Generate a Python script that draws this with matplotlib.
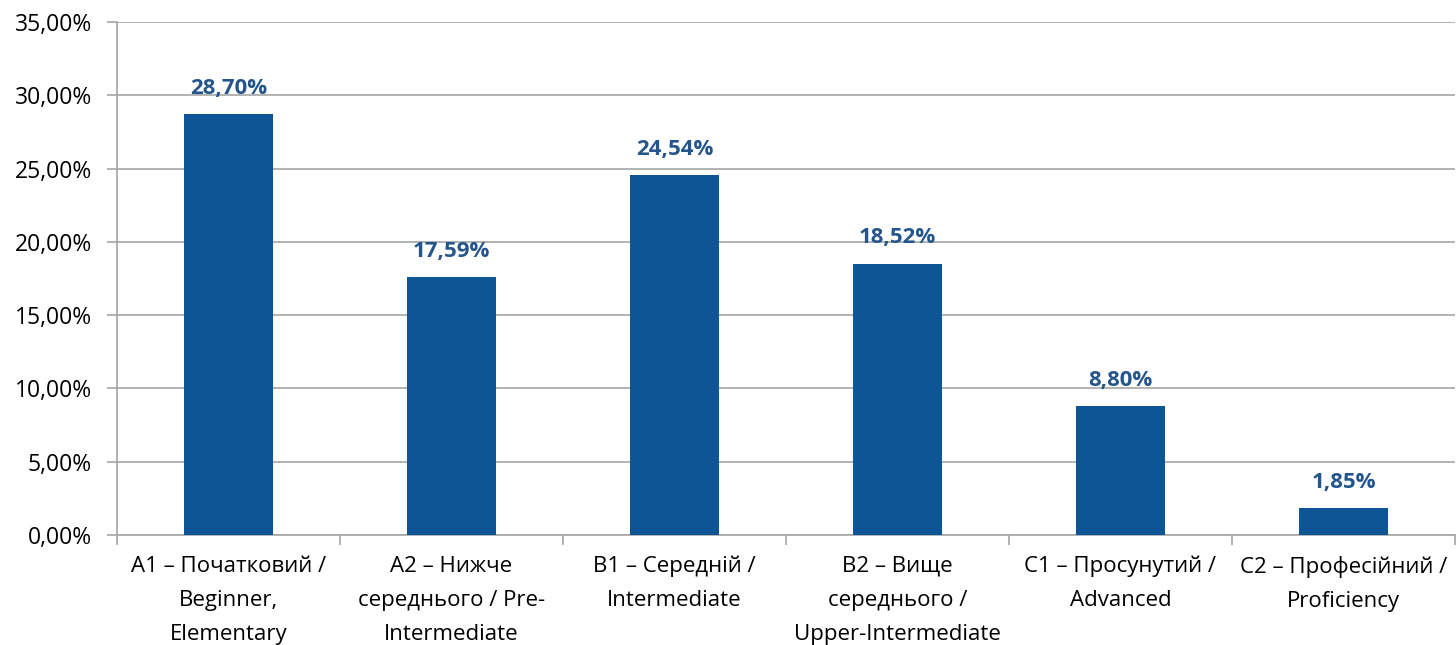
import matplotlib
matplotlib.use("Agg")
import matplotlib.pyplot as plt
from matplotlib.ticker import FuncFormatter, FixedLocator

categories = [
    "A1 – Початковий /\nBeginner,\nElementary",
    "A2 – Нижче\nсереднього / Pre-\nIntermediate",
    "B1 – Середній /\nIntermediate",
    "B2 – Вище\nсереднього /\nUpper-Intermediate",
    "C1 – Просунутий /\nAdvanced",
    "C2 – Професійний /\nProficiency",
]
values = [28.70, 17.59, 24.54, 18.52, 8.80, 1.85]
yticks = [0, 5, 10, 15, 20, 25, 30, 35]

plt.rcParams['font.family'] = ['Open Sans', 'DejaVu Sans']

fig = plt.figure(figsize=(14.56, 6.45), dpi=100)
ax = fig.add_axes([117/1456, 1-535/645, (1455-117)/1456, (535-22)/645])

x = list(range(len(values)))
ax.bar(x, values, width=0.4, color="#0E5595", zorder=3)
for xi, v in zip(x, values):
    ax.annotate(f"{v:.2f}%".replace(".", ","), (xi, v), xytext=(0, 11),
                textcoords="offset points", ha="center", va="bottom",
                fontsize=16, fontweight="bold", color="#24558C")

ax.set_xlim(-0.5, len(values) - 0.5)
ax.set_ylim(0, 35)
ax.set_yticks(yticks)
ax.yaxis.set_major_formatter(FuncFormatter(lambda v, p: f"{v:.2f}%".replace(".", ",")))
ax.grid(axis="y", color="#A6A6A6", linewidth=1.2, zorder=0)

ax.set_xticks(x)
ax.set_xticklabels(categories, fontsize=16, linespacing=1.82)
ax.xaxis.set_minor_locator(FixedLocator([i - 0.5 for i in range(len(values) + 1)]))
ax.tick_params(axis="x", which="major", length=0, pad=15)
ax.tick_params(axis="x", which="minor", length=7, color="#A6A6A6", width=1.2)
ax.tick_params(axis="y", length=7, color="#A6A6A6", width=1.2, labelsize=16.5, pad=11)

for s in ["top", "right"]:
    ax.spines[s].set_visible(False)
for s in ["left", "bottom"]:
    ax.spines[s].set_color("#A6A6A6")
    ax.spines[s].set_linewidth(1.2)

fig.savefig("out.png", dpi=100)
